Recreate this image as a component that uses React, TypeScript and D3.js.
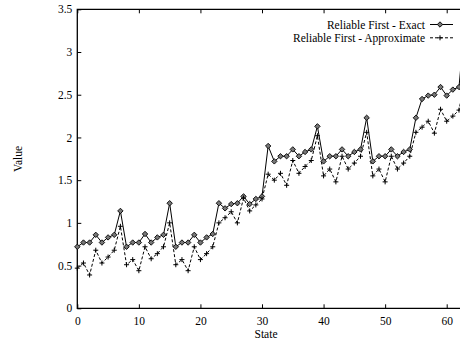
import React, { useRef, useEffect } from "react";
import * as d3 from "d3";

// State index = position in the arrays below
const exactValues = [
  0.72, 0.77, 0.77, 0.86, 0.77, 0.83, 0.86, 1.14,
  0.72, 0.77, 0.77, 0.87, 0.77, 0.83, 0.86, 1.23,
  0.72, 0.77, 0.77, 0.86, 0.77, 0.83, 0.87, 1.23,
  1.17, 1.22, 1.23, 1.31, 1.22, 1.28, 1.31, 1.9,
  1.72, 1.78, 1.78, 1.86, 1.78, 1.83, 1.86, 2.13,
  1.72, 1.78, 1.78, 1.86, 1.78, 1.83, 1.86, 2.23,
  1.72, 1.78, 1.78, 1.86, 1.78, 1.83, 1.86, 2.23,
  2.45, 2.49, 2.5, 2.59, 2.49, 2.56, 2.59, 3.4,
];

const approxValues = [
  0.47, 0.53, 0.39, 0.68, 0.53, 0.6, 0.68, 0.96,
  0.51, 0.57, 0.44, 0.72, 0.58, 0.64, 0.72, 1.0,
  0.51, 0.57, 0.44, 0.72, 0.57, 0.64, 0.72, 1.0,
  1.06, 1.13, 1.0, 1.29, 1.14, 1.21, 1.28, 1.57,
  1.5, 1.58, 1.44, 1.73, 1.58, 1.66, 1.73, 2.02,
  1.55, 1.63, 1.48, 1.78, 1.63, 1.7, 1.78, 2.06,
  1.55, 1.63, 1.48, 1.78, 1.63, 1.7, 1.78, 2.06,
  2.12, 2.19, 2.05, 2.33, 2.19, 2.25, 2.32, 2.7,
];

const seriesNames = ["Reliable First - Exact", "Reliable First - Approximate"];
const xTicks = [0, 10, 20, 30, 40, 50, 60];
const yTicks = [0, 0.5, 1, 1.5, 2, 2.5, 3, 3.5];

const W = 460;
const H = 339;
const FONT = "'Liberation Serif', 'Times New Roman', serif";
const FS = 11.5;

const App = () => {
  const svgRef = useRef<SVGSVGElement | null>(null);

  useEffect(() => {
    const svg = d3.select(svgRef.current);
    svg.selectAll("*").remove();

    const left = 77.3;
    const top = 9.3;
    const bottom = 308.3;

    const x = d3.scaleLinear().domain([0, 60]).range([left, 446.7]);
    const y = d3.scaleLinear().domain([0, 3.5]).range([bottom, top]);

    // axes, ticks pointing inward
    const xAxis = svg
      .append("g")
      .attr("transform", `translate(0,${bottom})`)
      .call(
        d3.axisBottom(x).tickValues(xTicks).tickSize(-4).tickPadding(8.5).tickFormat(d3.format("d"))
      );
    const xTop = svg
      .append("g")
      .attr("transform", `translate(0,${top})`)
      .call(d3.axisTop(x).tickValues(xTicks).tickSize(-4).tickFormat(() => ""));
    const yAxis = svg
      .append("g")
      .attr("transform", `translate(${left},0)`)
      .call(
        d3.axisLeft(y).tickValues(yTicks).tickSize(-4).tickPadding(5).tickFormat((d) => String(d))
      );

    [xAxis, xTop, yAxis].forEach((g) => {
      g.select(".domain").remove();
      g.selectAll("line").attr("stroke", "#000").attr("stroke-width", 1);
      g.selectAll("text").attr("font-family", FONT).attr("font-size", FS).attr("fill", "#000");
    });

    // frame
    svg
      .append("path")
      .attr("d", `M${W + 5},${top}H${left}V${bottom}H${W + 5}`)
      .attr("fill", "none")
      .attr("stroke", "#000")
      .attr("stroke-width", 1.3);

    const line = d3
      .line<number>()
      .x((d, i) => x(i))
      .y((d) => y(d));

    // exact series
    svg
      .append("path")
      .datum(exactValues)
      .attr("d", line)
      .attr("fill", "none")
      .attr("stroke", "#000")
      .attr("stroke-width", 1);

    // approximate series
    svg
      .append("path")
      .datum(approxValues)
      .attr("d", line)
      .attr("fill", "none")
      .attr("stroke", "#000")
      .attr("stroke-width", 1)
      .attr("stroke-dasharray", "3,2");

    const diamond = (cx: number, cy: number) =>
      `M${cx},${cy - 2.7}L${cx + 2.7},${cy}L${cx},${cy + 2.7}L${cx - 2.7},${cy}Z`;
    const plus = (cx: number, cy: number) =>
      `M${cx - 2.5},${cy}H${cx + 2.5}M${cx},${cy - 2.5}V${cy + 2.5}`;

    svg
      .append("g")
      .selectAll("path")
      .data(exactValues)
      .enter()
      .append("path")
      .attr("d", (d, i) => diamond(x(i), y(d)))
      .attr("fill", "#777")
      .attr("stroke", "#000")
      .attr("stroke-width", 0.9);

    svg
      .append("g")
      .selectAll("path")
      .data(approxValues)
      .enter()
      .append("path")
      .attr("d", (d, i) => plus(x(i), y(d)))
      .attr("fill", "none")
      .attr("stroke", "#000")
      .attr("stroke-width", 1);

    // legend
    const legendRows = [
      { name: seriesNames[0], cy: 24.5, dash: null, marker: "diamond" },
      { name: seriesNames[1], cy: 37.8, dash: "3,2", marker: "plus" },
    ];
    legendRows.forEach((row) => {
      svg
        .append("text")
        .attr("x", 425)
        .attr("y", row.cy + 4)
        .attr("text-anchor", "end")
        .attr("font-family", FONT)
        .attr("font-size", FS)
        .text(row.name);
      svg
        .append("line")
        .attr("x1", 430)
        .attr("x2", 453)
        .attr("y1", row.cy)
        .attr("y2", row.cy)
        .attr("stroke", "#000")
        .attr("stroke-width", 1)
        .attr("stroke-dasharray", row.dash);
      if (row.marker === "diamond") {
        svg
          .append("path")
          .attr("d", diamond(440, row.cy))
          .attr("fill", "#777")
          .attr("stroke", "#000")
          .attr("stroke-width", 0.9);
      } else {
        svg
          .append("path")
          .attr("d", plus(440, row.cy))
          .attr("stroke", "#000")
          .attr("stroke-width", 1);
      }
    });

    // axis titles
    svg
      .append("text")
      .attr("x", 266)
      .attr("y", 338)
      .attr("text-anchor", "middle")
      .attr("font-family", FONT)
      .attr("font-size", FS)
      .text("State");
    svg
      .append("text")
      .attr("transform", "translate(22,159) rotate(-90)")
      .attr("text-anchor", "middle")
      .attr("font-family", FONT)
      .attr("font-size", FS)
      .text("Value");
  }, []);

  return (
    <svg
      ref={svgRef}
      width={W}
      height={H}
      style={{ position: "absolute", left: 0, top: 0, background: "#fff" }}
    ></svg>
  );
};

export default App;
